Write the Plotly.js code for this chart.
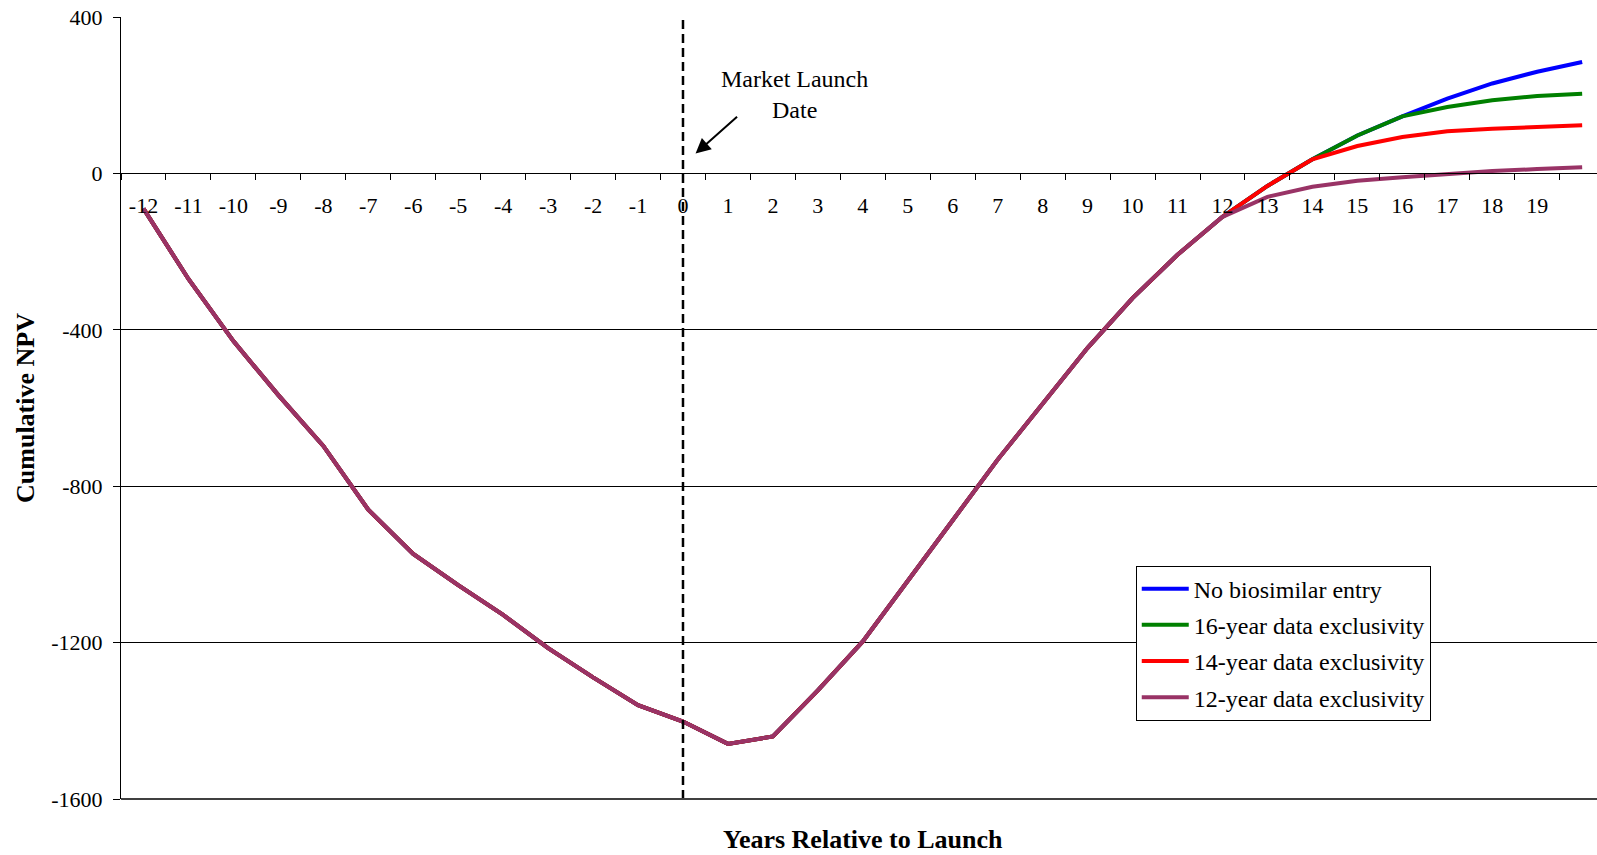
<!DOCTYPE html>
<html>
<head>
<meta charset="utf-8">
<script src="https://cdn.plot.ly/plotly-3.0.1.min.js"></script>
<style>html,body{margin:0;padding:0;background:#fff;}#chart{width:1597px;height:855px;}</style>
</head>
<body>
<div id="chart"></div>
<script>
// Years relative to launch (category axis)
const years = [-12,-11,-10,-9,-8,-7,-6,-5,-4,-3,-2,-1,0,1,2,3,4,5,6,7,8,9,10,11,12,13,14,15,16,17,18,19,20];
const yearLabels = ["-12","-11","-10","-9","-8","-7","-6","-5","-4","-3","-2","-1","0","1","2","3","4","5","6","7","8","9","10","11","12","13","14","15","16","17","18","19",""];

// Shared cumulative NPV path, years -12 .. 12
const sharedNPV = [-90,-270,-429,-567,-697,-860,-973,-1053,-1129,-1214,-1289,-1360,-1402,-1459,-1440,-1322,-1197,-1040,-887,-732,-588,-446,-319,-208,-111];

// Scenario tails, years 13 .. 20
const noEntryTail   = [-32, 36, 97, 146, 191, 230, 260, 285];
const excl16Tail    = [-32, 36, 97, 146, 170, 187, 198, 204];
const excl14Tail    = [-32, 36, 70, 93, 108, 114, 119, 123];
const excl12Tail    = [-60, -34, -19, -10, -2, 6, 11, 16];

const seriesNames  = ["No biosimilar entry","16-year data exclusivity","14-year data exclusivity","12-year data exclusivity"];
const seriesColors = ["#0000FF","#008000","#FF0000","#993366"];
const seriesTails  = [noEntryTail, excl16Tail, excl14Tail, excl12Tail];

const yTicks = [400, 0, -400, -800, -1200, -1600];
const yRange = [-1600, 400];
const launchYear = 0;

const fontFam = '"Liberation Serif", "Times New Roman", Times, serif';

const traces = seriesNames.map((name, i) => ({
  type: 'scatter',
  mode: 'lines',
  name: name,
  x: years,
  y: sharedNPV.concat(seriesTails[i]),
  line: {color: seriesColors[i], width: 4},
  legendgroup: 'g' + i,
  hoverinfo: 'x+y'
}));

const halfTicks = years.map(v => v - 0.5);
const zeroFrac = (0 - yRange[0]) / (yRange[1] - yRange[0]);
const xRange = [-12.5, 20.33];

const layout = {
  width: 1597,
  height: 855,
  margin: {l: 121, r: 0, t: 17, b: 56, pad: 0},
  paper_bgcolor: '#fff',
  plot_bgcolor: '#fff',
  font: {family: fontFam, color: '#000', size: 22},
  showlegend: true,
  xaxis: {
    range: xRange,
    anchor: 'free',
    position: zeroFrac,
    side: 'bottom',
    showline: true,
    linecolor: '#000',
    linewidth: 1,
    showgrid: false,
    zeroline: false,
    tickmode: 'array',
    tickvals: years,
    ticktext: yearLabels,
    ticks: '',
    ticklabelstandoff: 12,
    tickfont: {family: fontFam, size: 22, color: '#000'},
    minor: {tickmode: 'array', tickvals: halfTicks, ticks: 'outside', ticklen: 6, tickwidth: 1, tickcolor: '#000', showgrid: false}
  },
  yaxis: {
    range: yRange,
    tickmode: 'array',
    tickvals: yTicks,
    ticktext: yTicks.map(String),
    showline: true,
    linecolor: '#000',
    linewidth: 1,
    ticks: 'outside',
    ticklen: 7,
    tickwidth: 1,
    tickcolor: '#000',
    showgrid: true,
    gridcolor: '#000',
    gridwidth: 1,
    zeroline: false,
    tickfont: {family: fontFam, size: 22, color: '#000'},
    ticklabelstandoff: 6,
    title: {text: 'Cumulative NPV', font: {family: fontFam, size: 26, weight: 'bold', color: '#000'}, standoff: 9}
  },
  legend: {
    x: 0.6875, y: 0.2985, xanchor: 'left', yanchor: 'top',
    bgcolor: '#fff', bordercolor: '#000', borderwidth: 1,
    font: {family: fontFam, size: 24, color: '#000'},
    itemwidth: 47,
    traceorder: 'grouped',
    tracegroupgap: 2
  },
  shapes: [
    {
      type: 'line', xref: 'x', yref: 'paper',
      x0: launchYear, x1: launchYear, y0: 0, y1: 1,
      line: {color: '#000', width: 2.5, dash: '9px,5px'}
    },
    {
      type: 'line', xref: 'paper', yref: 'paper',
      x0: 0, x1: 1, y0: 0, y1: 0,
      line: {color: '#404040', width: 2}
    }
  ],
  annotations: [
    {
      xref: 'x', yref: 'y', x: launchYear + 0.28, y: 51,
      ax: 43, ay: -38, text: '', showarrow: true,
      arrowhead: 2, arrowsize: 1.5, arrowwidth: 2, arrowcolor: '#000'
    },
    {
      xref: 'x', yref: 'y', x: launchYear + 2.47, y: 202,
      text: 'Market Launch<br>Date', showarrow: false, align: 'center',
      font: {family: fontFam, size: 24, color: '#000'}
    },
    {
      xref: 'paper', yref: 'paper', x: 0.5026, y: 0, yanchor: 'middle', yshift: -40,
      text: 'Years Relative to Launch', showarrow: false,
      font: {family: fontFam, size: 26, weight: 'bold', color: '#000'}
    }
  ]
};

Plotly.newPlot('chart', traces, layout, {displayModeBar: false, responsive: false});
</script>
</body>
</html>
